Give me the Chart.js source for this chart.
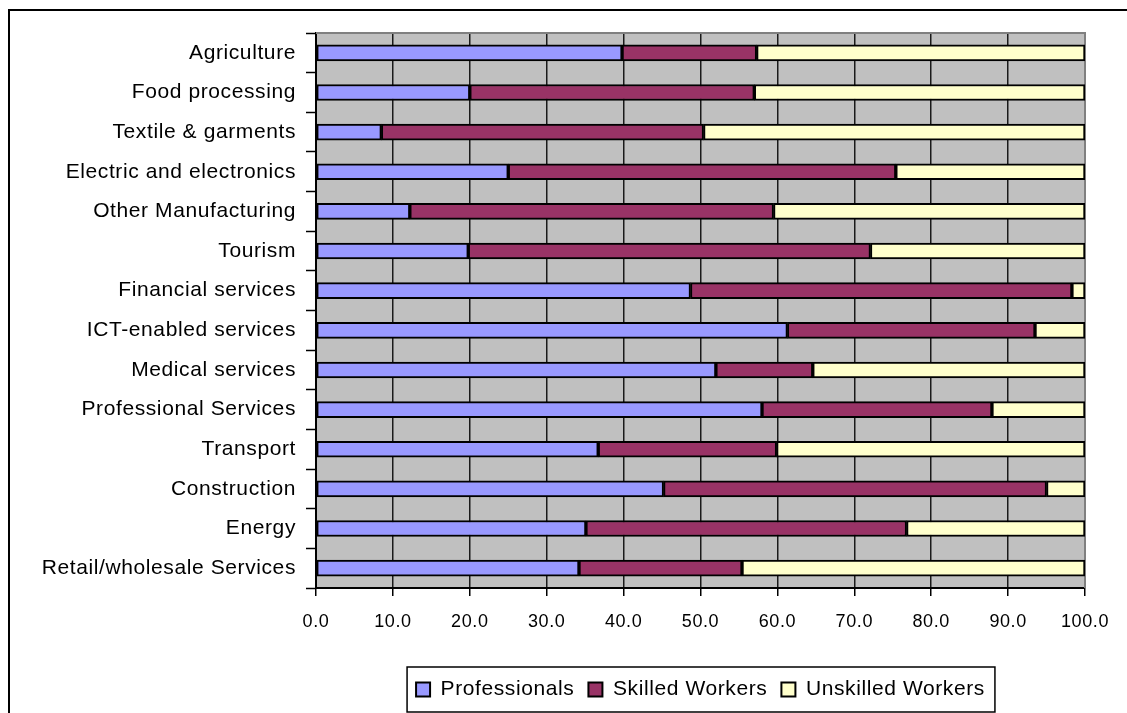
<!DOCTYPE html>
<html>
<head>
<meta charset="utf-8">
<script src="https://cdn.jsdelivr.net/npm/chart.js@4/dist/chart.umd.min.js"></script>
<style>
  html, body { margin: 0; padding: 0; background: #ffffff; }
  canvas { display: block; }
</style>
</head>
<body>
<canvas id="chart" width="1127" height="713"></canvas>
<script>
// Sectors, top to bottom
const sectors = [
  'Agriculture',
  'Food processing',
  'Textile & garments',
  'Electric and electronics',
  'Other Manufacturing',
  'Tourism',
  'Financial services',
  'ICT-enabled services',
  'Medical services',
  'Professional Services',
  'Transport',
  'Construction',
  'Energy',
  'Retail/wholesale Services'
];

// Share of each occupational group per sector (%)
const professionals = [39.8, 20.0, 8.5, 25.0, 12.2, 19.8, 48.7, 61.3, 52.0, 58.0, 36.7, 45.2, 35.1, 34.2];
const skilledWorkers = [17.5, 37.0, 41.9, 50.4, 47.3, 52.3, 49.6, 32.2, 12.6, 29.9, 23.2, 49.8, 41.7, 21.2];
const unskilledWorkers = [42.7, 43.0, 49.6, 24.6, 40.5, 27.9, 1.7, 6.5, 35.4, 12.1, 40.1, 5.0, 23.2, 44.6];

// Value axis ticks
const xTicks = [0, 10, 20, 30, 40, 50, 60, 70, 80, 90, 100];

const FONT = '"Liberation Sans", Arial, sans-serif';
const SPACING = '0.6px';

const setSpacing = (chart) => { chart.ctx.letterSpacing = SPACING; };

// Plot background, frame lines and the box round the legend
const framePlugin = {
  id: 'framePlugin',
  beforeUpdate: setSpacing,
  beforeLayout: setSpacing,
  afterLayout(chart) {
    // centre the legend under the plot area
    const lg = chart.legend;
    const a = chart.chartArea;
    lg.left = a.left;
    lg.right = a.right;
    lg.width = a.right - a.left;
  },
  beforeDraw(chart) {
    const { ctx, chartArea: a } = chart;
    setSpacing(chart);
    ctx.save();
    ctx.fillStyle = '#ffffff';
    ctx.fillRect(0, 0, chart.width, chart.height);
    ctx.fillStyle = '#c0c0c0';
    ctx.fillRect(a.left, a.top, a.right - a.left, a.bottom - a.top);
    ctx.restore();
  },
  beforeDatasetsDraw(chart) {
    const { ctx, chartArea: a } = chart;
    ctx.save();
    ctx.strokeStyle = '#808080';
    ctx.lineWidth = 2;
    ctx.beginPath();
    ctx.moveTo(a.left, a.top);
    ctx.lineTo(a.right, a.top);
    ctx.lineTo(a.right, a.bottom);
    ctx.stroke();
    ctx.restore();
  },
  afterDraw(chart) {
    const { ctx } = chart;
    ctx.save();
    // outer frame
    ctx.strokeStyle = '#000000';
    ctx.lineWidth = 2;
    ctx.beginPath();
    ctx.moveTo(9, chart.height);
    ctx.lineTo(9, 10);
    ctx.lineTo(chart.width, 10);
    ctx.stroke();
    // legend box
    const boxes = chart.legend.legendHitBoxes;
    if (boxes && boxes.length) {
      let l = Infinity, r = -Infinity, t = Infinity, b = -Infinity;
      boxes.forEach(h => {
        l = Math.min(l, h.left); r = Math.max(r, h.left + h.width);
        t = Math.min(t, h.top); b = Math.max(b, h.top + h.height);
      });
      ctx.strokeStyle = '#000000';
      ctx.lineWidth = 1.5;
      ctx.strokeRect(l - 9, t - 12, (r - l) + 19, (b - t) + 24);
    }
    ctx.restore();
  }
};

const ctx = document.getElementById('chart').getContext('2d');
new Chart(ctx, {
  type: 'bar',
  data: {
    labels: sectors,
    datasets: [
      { label: 'Professionals', data: professionals, backgroundColor: '#9999ff' },
      { label: 'Skilled Workers', data: skilledWorkers, backgroundColor: '#993366' },
      { label: 'Unskilled Workers', data: unskilledWorkers, backgroundColor: '#ffffcc' }
    ].map(d => Object.assign(d, {
      borderColor: '#000000',
      borderWidth: 2,
      borderSkipped: false,
      barThickness: 16
    }))
  },
  options: {
    indexAxis: 'y',
    responsive: false,
    animation: false,
    devicePixelRatio: 1,
    layout: { padding: { left: 10, right: 42, top: 33, bottom: 3 } },
    plugins: {
      title: { display: false },
      tooltip: { enabled: false },
      legend: {
        position: 'bottom',
        labels: {
          color: '#000000',
          font: { family: FONT, size: 21 },
          boxWidth: 14,
          boxHeight: 14,
          padding: 14
        }
      }
    },
    scales: {
      x: {
        stacked: true,
        min: 0,
        max: 100,
        afterBuildTicks(scale) { scale.ticks = xTicks.map(v => ({ value: v })); },
        afterFit(scale) { scale.height = 77; },
        ticks: {
          color: '#000000',
          font: { family: FONT, size: 18 },
          padding: 15,
          maxRotation: 0,
          callback: v => Number(v).toFixed(1)
        },
        grid: {
          color: c => (c.tick && c.tick.value === 100) ? '#808080' : '#1a1a1a',
          lineWidth: 1.5,
          tickColor: '#000000',
          tickLength: 8,
          tickWidth: 1.5
        },
        border: { display: true, color: '#000000', width: 2 }
      },
      y: {
        stacked: true,
        afterFit(scale) { scale.width = 306; },
        ticks: {
          color: '#000000',
          font: { family: FONT, size: 21 },
          padding: 10,
          autoSkip: false
        },
        grid: {
          offset: true,
          drawOnChartArea: false,
          drawTicks: true,
          tickLength: 10,
          tickColor: '#000000',
          tickWidth: 1.5
        },
        border: { display: true, color: '#000000', width: 2 }
      }
    }
  },
  plugins: [framePlugin]
});
</script>
</body>
</html>
